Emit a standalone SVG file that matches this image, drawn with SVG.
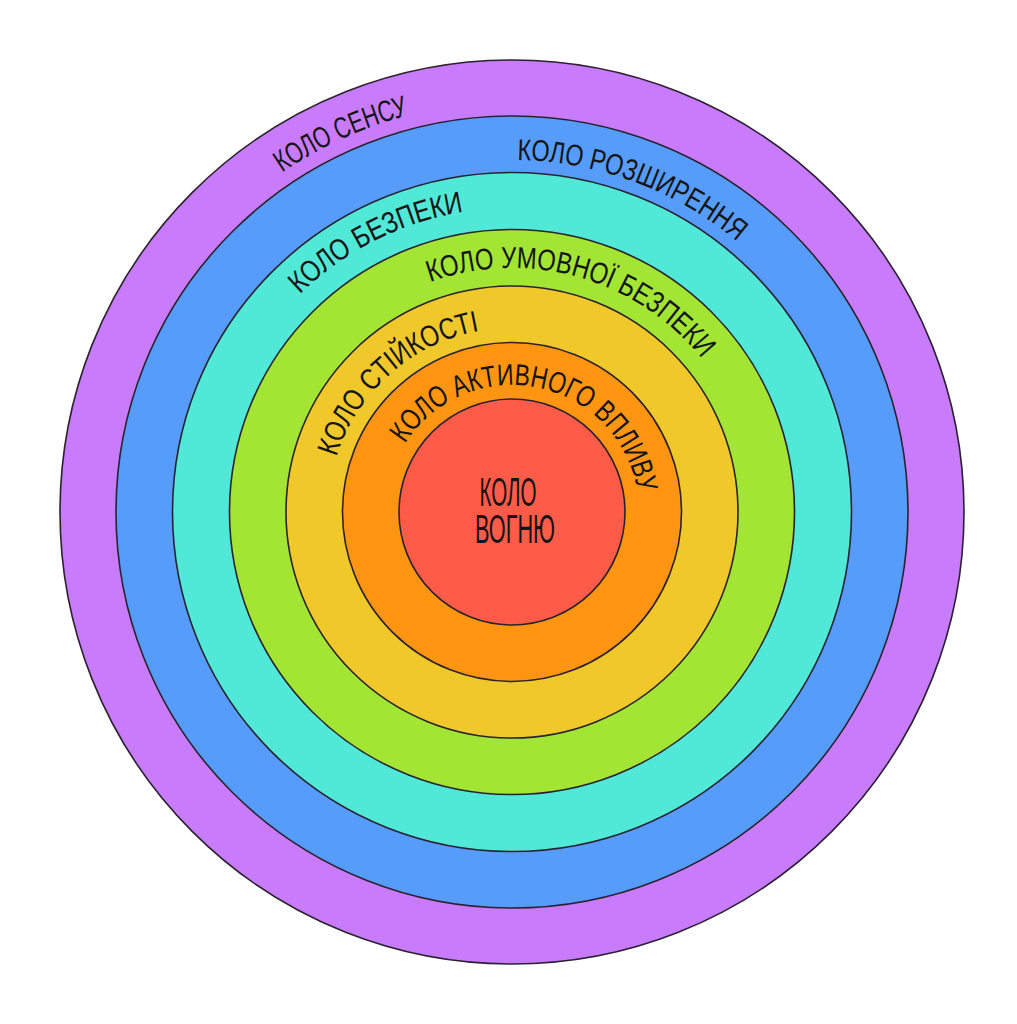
<svg xmlns="http://www.w3.org/2000/svg" xmlns:xlink="http://www.w3.org/1999/xlink" width="1017" height="1024" viewBox="0 0 1017 1024">
  <style>
    .ring { stroke: #2a2230; stroke-width: 1.6; }
    .lbl { font-family: "Liberation Sans Narrow", "Liberation Sans", "DejaVu Sans", sans-serif; font-size: 30px; fill: #141414; }
    .ctr { font-family: "Liberation Sans Narrow", "Liberation Sans", "DejaVu Sans", sans-serif; font-size: 40px; fill: #141414; text-anchor: middle; }
  </style>
  <defs>
    <path id="p410" d="M 102 512 A 410 410 0 1 1 922 512 A 410 410 0 1 1 102 512"/>
    <path id="p352" d="M 160 512 A 352 352 0 1 1 864 512 A 352 352 0 1 1 160 512"/>
    <path id="p304" d="M 208 512 A 304 304 0 1 1 816 512 A 304 304 0 1 1 208 512"/>
    <path id="p244" d="M 268 512 A 244 244 0 1 1 756 512 A 244 244 0 1 1 268 512"/>
    <path id="p184" d="M 328 512 A 184 184 0 1 1 696 512 A 184 184 0 1 1 328 512"/>
    <path id="p127" d="M 385 512 A 127 127 0 1 1 639 512 A 127 127 0 1 1 385 512"/>
  </defs>
  <rect width="1017" height="1024" fill="#ffffff"/>

  <g id="kolo-sensu">
    <circle class="ring" cx="512" cy="512" r="452" fill="#C87BFA"/>
  </g>
  <g id="kolo-rozshyrennia">
    <circle class="ring" cx="512" cy="512" r="396" fill="#569DFB"/>
  </g>
  <g id="kolo-bezpeky">
    <circle class="ring" cx="512" cy="512" r="339.5" fill="#50E8D6"/>
  </g>
  <g id="kolo-umovnoi-bezpeky">
    <circle class="ring" cx="512" cy="512" r="282.5" fill="#A3E533"/>
  </g>
  <g id="kolo-stiikosti">
    <circle class="ring" cx="512" cy="512" r="226" fill="#F0C82A"/>
  </g>
  <g id="kolo-aktyvnoho-vplyvu">
    <circle class="ring" cx="512" cy="512" r="169.5" fill="#FF9510"/>
  </g>
  <g id="kolo-vohniu">
    <circle class="ring" cx="512" cy="512" r="113" fill="#FF5B49"/>
    <text class="ctr" x="508" y="506" textLength="57" lengthAdjust="spacingAndGlyphs">КОЛО</text>
    <text class="ctr" x="515" y="543" textLength="80" lengthAdjust="spacingAndGlyphs">ВОГНЮ</text>
  </g>

  <g id="labels">
    <text class="lbl"><textPath xlink:href="#p410" href="#p410" startOffset="399.7" textLength="139.5" lengthAdjust="spacingAndGlyphs">КОЛО СЕНСУ</textPath></text>
    <text class="lbl"><textPath xlink:href="#p352" href="#p352" startOffset="558.1" textLength="239" lengthAdjust="spacingAndGlyphs">КОЛО РОЗШИРЕННЯ</textPath></text>
    <text class="lbl"><textPath xlink:href="#p304" href="#p304" startOffset="242.5" textLength="186.2" lengthAdjust="spacingAndGlyphs">КОЛО БЕЗПЕКИ</textPath></text>
    <text class="lbl"><textPath xlink:href="#p244" href="#p244" startOffset="299.4" textLength="301.1" lengthAdjust="spacingAndGlyphs">КОЛО УМОВНОЇ БЕЗПЕКИ</textPath></text>
    <text class="lbl"><textPath xlink:href="#p184" href="#p184" startOffset="55.9" textLength="200.1" lengthAdjust="spacingAndGlyphs">КОЛО СТІЙКОСТІ</textPath></text>
    <text class="lbl"><textPath xlink:href="#p127" href="#p127" startOffset="72" textLength="307.2" lengthAdjust="spacingAndGlyphs">КОЛО АКТИВНОГО ВПЛИВУ</textPath></text>
  </g>
</svg>
